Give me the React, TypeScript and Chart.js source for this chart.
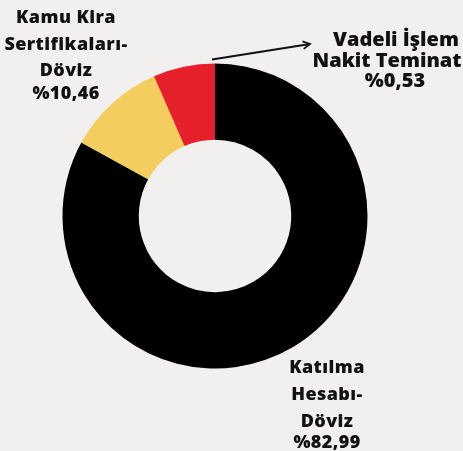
import React, { useEffect, useRef } from "react";
import { Chart, registerables } from "chart.js";

Chart.register(...registerables);

const categories = ["Katılma Hesabı-Döviz", "Kamu Kira Sertifikaları-Döviz", "Vadeli İşlem Nakit Teminat"];
// slice sizes (percent of the ring)
const sliceValues = [82.99, 10.46, 6.55];
const labelLines = [
  ["Katılma", "Hesabı-", "Döviz", "%82,99"],
  ["Kamu Kira", "Sertifikaları-", "Döviz", "%10,46"],
  ["Vadeli İşlem", "Nakit Teminat", "%0,53"],
];
const colors = ["#000000", "#F4CD5F", "#E5202A"];

const BG = "#F1F0EE";
const FONT = '"Open Sans", sans-serif';

const labelPlugin = {
  id: "sliceLabels",
  afterDraw(chart: any) {
    const ctx = chart.ctx;
    const arc = chart.getDatasetMeta(0).data[0];
    const cx = arc.x;
    const cy = arc.y;
    const R = arc.outerRadius;
    ctx.save();
    ctx.fillStyle = "#111111";
    ctx.textAlign = "center";
    ctx.textBaseline = "alphabetic";
    (ctx as any).letterSpacing = "0.4px";

    // bottom-right label (black slice)
    ctx.font = `800 18px ${FONT}`;
    const b = labelLines[0];
    const bx = cx + 112;
    const bys = [cy + 157, cy + 184, cy + 211, cy + 232];
    b.forEach((t, i) => ctx.fillText(t, bx, bys[i]));

    // top-left label (yellow slice)
    const l = labelLines[1];
    const lx = cx - 149;
    const lys = [cy - 193, cy - 166, cy - 140, cy - 117];
    l.forEach((t, i) => ctx.fillText(t, lx, lys[i]));

    // top-right label (red slice)
    (ctx as any).letterSpacing = "0px";
    ctx.font = `800 20px ${FONT}`;
    const r = labelLines[2];
    const rxs = [cx + 181, cx + 172, cx + 180];
    const rys = [cy - 170, cy - 149, cy - 129];
    r.forEach((t, i) => ctx.fillText(t, rxs[i], rys[i]));

    // arrow
    const sx = cx - 3;
    const sy = cy - R - 4;
    const ex = cx + 95;
    const ey = cy - 172;
    ctx.strokeStyle = "#111111";
    ctx.lineWidth = 1.8;
    ctx.beginPath();
    ctx.moveTo(sx, sy);
    ctx.lineTo(ex, ey);
    ctx.stroke();
    const ang = Math.atan2(ey - sy, ex - sx);
    const hl = 8;
    ctx.beginPath();
    ctx.moveTo(ex - hl * Math.cos(ang - 0.5), ey - hl * Math.sin(ang - 0.5));
    ctx.lineTo(ex, ey);
    ctx.lineTo(ex - hl * Math.cos(ang + 0.5), ey - hl * Math.sin(ang + 0.5));
    ctx.stroke();
    ctx.restore();
  },
};

export default function App() {
  const ref = useRef<HTMLCanvasElement | null>(null);
  useEffect(() => {
    document.body.style.margin = "0";
    document.body.style.background = BG;
    const canvas = ref.current!;
    const chart = new Chart(canvas, {
      type: "doughnut",
      data: {
        labels: categories,
        datasets: [
          {
            data: sliceValues,
            backgroundColor: colors,
            borderWidth: 0,
            hoverOffset: 0,
          },
        ],
      },
      options: {
        responsive: false,
        animation: false,
        devicePixelRatio: 1,
        cutout: "50%",
        layout: { padding: { left: 62.5, right: 95.5, top: 63.5, bottom: 82.5 } },
        plugins: { legend: { display: false }, tooltip: { enabled: false } },
      },
      plugins: [labelPlugin],
    });
    return () => chart.destroy();
  }, []);
  return (
    <div style={{ position: "absolute", left: 0, top: 0, width: 463, height: 451, background: BG, overflow: "hidden" }}>
      <canvas ref={ref} width={463} height={451} />
    </div>
  );
}
